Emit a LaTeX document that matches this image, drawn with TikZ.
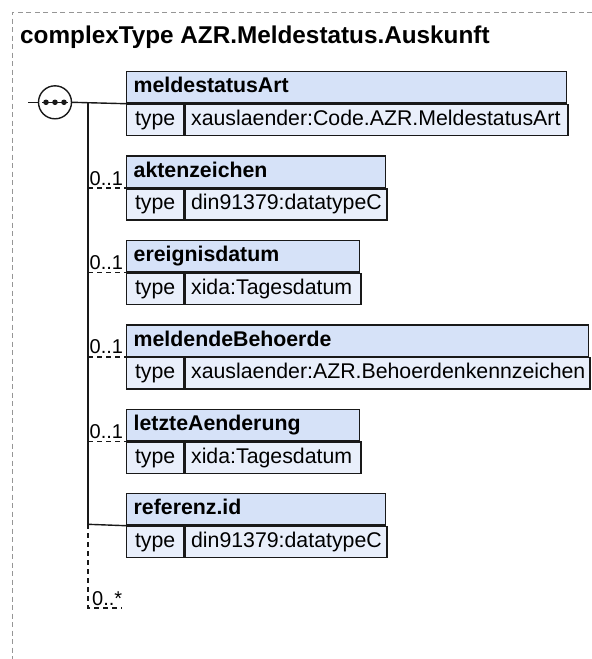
\documentclass[tikz,border=0pt]{standalone}
\usepackage{fontspec}
\setmainfont{Liberation Sans}
\usetikzlibrary{calc}
\definecolor{hdrfill}{RGB}{214,226,248}
\definecolor{rowfill}{RGB}{233,239,251}
\definecolor{framegray}{RGB}{150,150,150}
\definecolor{ink}{RGB}{25,25,25}
\newcommand{\xsdbox}[5]{%
  \pgfmathsetmacro\hdrw{#3-14}%
  \pgfmathsetmacro\valw{#3-57-12}%
  \node[hdrbox, text width=\hdrw pt] (#1h) at (126,#2) {#4};
  \node[typebox] (#1t) at (#1h.south west) {type};
  \node[valbox, text width=\valw pt] (#1v) at (#1t.north east) {#5};
}
\begin{document}
\begin{tikzpicture}[x=1pt,y=-1pt,
  hdrbox/.style={draw=ink, line width=1.4, fill=hdrfill, anchor=north west,
    minimum height=31.3, inner xsep=7, inner ysep=0, align=left,
    text height=15.5, text depth=4.5, font=\fontsize{21.3}{25}\selectfont\bfseries},
  typebox/.style={draw=ink, line width=1.4, fill=rowfill, anchor=north west,
    minimum height=31.3, minimum width=57, inner xsep=0, inner ysep=0,
    text height=15.5, text depth=4.5, font=\fontsize{21.3}{25}\selectfont},
  valbox/.style={draw=ink, line width=1.4, fill=rowfill, anchor=north west,
    minimum height=31.3, inner xsep=6, inner ysep=0, align=left,
    text height=15.5, text depth=4.5, font=\fontsize{21.3}{25}\selectfont},
  conn/.style={draw=ink, line width=1.4},
  optconn/.style={conn, dash pattern=on 5 off 4},
  occ/.style={font=\fontsize{20}{24}\selectfont, inner sep=0, anchor=base west},
]
\useasboundingbox (0,0) rectangle (592,659);
% frame
\draw[framegray, line width=1, dash pattern=on 5 off 3.5] (592,12) -- (12,12) -- (12,659);
\node[anchor=base west, inner sep=0, font=\fontsize{24.3}{28}\selectfont\bfseries] (title) at (20,43) {complexType AZR.Meldestatus.Auskunft};
% elements
\xsdbox{a}{71}{440}{meldestatusArt}{xauslaender:Code.AZR.MeldestatusArt}
\xsdbox{b}{155.4}{259}{aktenzeichen}{din91379:datatypeC}
\xsdbox{c}{239.8}{233}{ereignisdatum}{xida:Tagesdatum}
\xsdbox{d}{324.2}{462}{meldendeBehoerde}{xauslaender:AZR.Behoerdenkennzeichen}
\xsdbox{e}{408.6}{233}{letzteAenderung}{xida:Tagesdatum}
\xsdbox{f}{493}{259}{referenz.id}{din91379:datatypeC}
% sequence compositor
\node[circle, draw=ink, line width=1.4, fill=white, minimum size=33, inner sep=0] (seq) at (55,102.3) {};
\coordinate (tick) at (28,102.3);
\coordinate (vtop) at (88,102.3);
\coordinate (vbot) at (88,524.3);
\coordinate (dbot) at (88,608);
\coordinate (dend) at (122,608);
\draw[conn] (tick) -- (seq.west);
\draw[ink, line width=1.4] ($(seq.center)+(-13,0)$) -- ($(seq.center)+(13,0)$);
\foreach \dx in {-9,0,9} \fill[ink] ($(seq.center)+(\dx,0)$) circle (2.8);
\draw[conn] (seq.east) -- (ah.south west);
\draw[conn] (vtop) -- (vbot);
\draw[conn] (vbot) -- (fh.south west);
\foreach \e in {b,c,d,e} {
  \draw[optconn] (\e h.south west -| vtop) -- (\e h.south west);
  \node[occ] at ($(\e h.south west -| vtop)+(1.5,-3)$) {0..1};
}
\draw[optconn] (vbot) -- (dbot) -- (dend);
\node[occ] (occall) at ($(dbot)+(4,-3)$) {0..*};
\end{tikzpicture}
\end{document}
